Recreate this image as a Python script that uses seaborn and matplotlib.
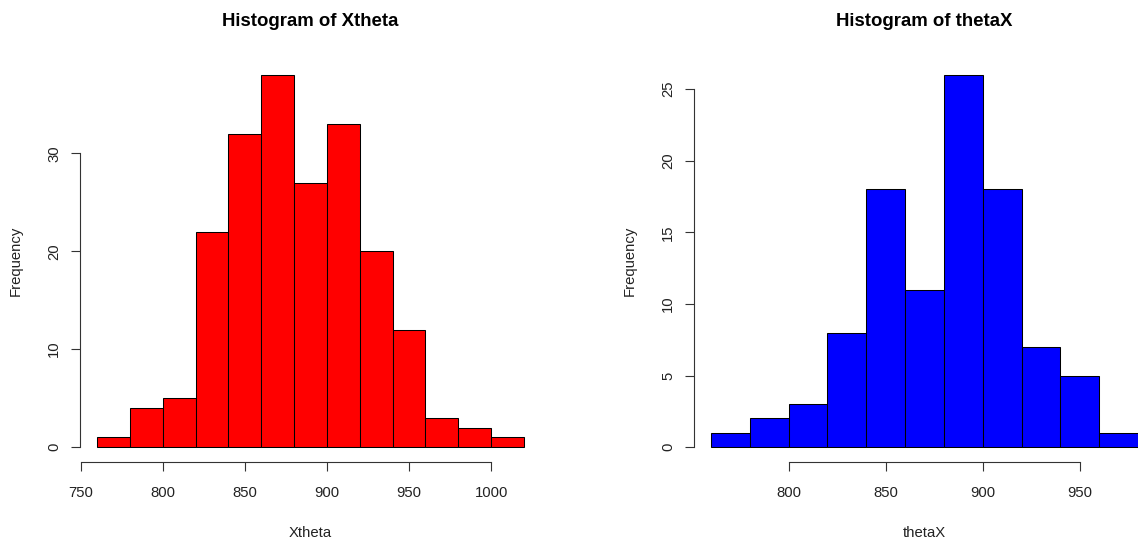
import numpy as np
import pandas as pd
import matplotlib
matplotlib.use("Agg")
import matplotlib.pyplot as plt
import seaborn as sns

# Bin edges (width 20) and frequencies for each sample
xtheta_edges = [760, 780, 800, 820, 840, 860, 880, 900, 920, 940, 960, 980, 1000, 1020]
xtheta_counts = [1, 4, 5, 22, 32, 38, 27, 33, 20, 12, 3, 2, 1]

thetax_edges = [760, 780, 800, 820, 840, 860, 880, 900, 920, 940, 960, 980]
thetax_counts = [1, 2, 3, 8, 18, 11, 26, 18, 7, 5, 1]

xtheta_xticks = [750, 800, 850, 900, 950, 1000]
xtheta_yticks = [0, 10, 20, 30]
thetax_xticks = [800, 850, 900, 950]
thetax_yticks = [0, 5, 10, 15, 20, 25]

sns.set_theme(style="white")
plt.rcParams["font.family"] = ["Liberation Sans", "DejaVu Sans"]

W, H = 1138, 541
fig = plt.figure(figsize=(W / 100, H / 100), dpi=100)

TXT = "#222222"
AX = "#333333"
FS = 10.7


def panel(left_px, edges, counts, color, name, xticks, yticks):
    bottom_px, top_px, width_px = 462, 60, 461
    ax = fig.add_axes([left_px / W, (H - bottom_px) / H, width_px / W,
                       (bottom_px - top_px) / H])
    e = np.asarray(edges, dtype=float)
    df = pd.DataFrame({"value": (e[:-1] + e[1:]) / 2,
                       "count": np.asarray(counts, dtype=float)})
    sns.histplot(data=df, x="value", weights="count", bins=list(e), ax=ax,
                 color=color, alpha=1.0, edgecolor="black", linewidth=0.75)
    rng = e[-1] - e[0]
    ax.set_xlim(e[0] - 0.04 * rng, e[-1] + 0.04 * rng)
    ymax = max(counts)
    ax.set_ylim(-0.04 * ymax, ymax * 1.04)

    for s in ["top", "right"]:
        ax.spines[s].set_visible(False)
    for s in ["left", "bottom"]:
        ax.spines[s].set_color(AX)
        ax.spines[s].set_linewidth(0.8)
    ax.spines["left"].set_bounds(yticks[0], yticks[-1])
    ax.spines["bottom"].set_bounds(xticks[0], xticks[-1])

    ax.set_xticks(xticks)
    ax.set_yticks(yticks)
    ax.set_yticklabels([str(t) for t in yticks], rotation=90, va="center")
    ax.tick_params(axis="both", direction="out", length=6.5, width=0.8,
                   color=AX, labelsize=FS, labelcolor=TXT,
                   bottom=True, left=True)
    ax.tick_params(axis="x", pad=10.5)
    ax.tick_params(axis="y", pad=7.2)
    ax.grid(False)

    ax.set_xlabel(name, fontsize=FS, color=TXT)
    ax.set_ylabel("Frequency", fontsize=FS, color=TXT)
    ax.xaxis.set_label_coords(0.5, -0.159)
    ax.yaxis.set_label_coords(-0.125, 0.5)
    ax.text(0.5, 1.097, f"Histogram of {name}", transform=ax.transAxes,
            ha="center", va="center", fontsize=13.4, fontweight="bold",
            color="black")
    return ax


panel(80, xtheta_edges, xtheta_counts, "#ff0000", "Xtheta",
      xtheta_xticks, xtheta_yticks)
panel(694, thetax_edges, thetax_counts, "#0000ff", "thetaX",
      thetax_xticks, thetax_yticks)

fig.savefig("out.png", dpi=100, facecolor="white")
